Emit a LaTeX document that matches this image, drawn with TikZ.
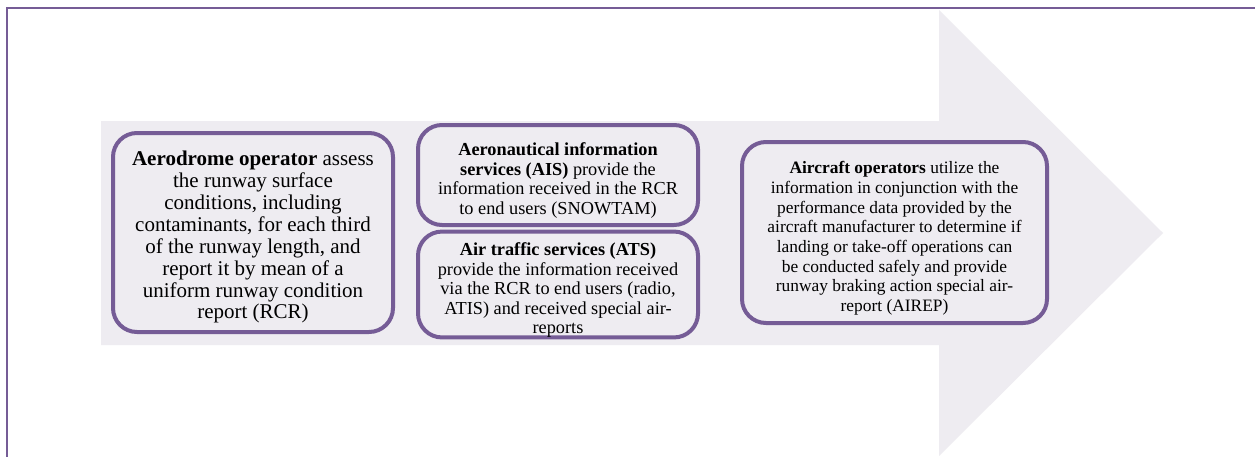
\documentclass[tikz,border=0pt]{standalone}
\usepackage{fontspec}
\setmainfont{Liberation Serif}
\definecolor{purp}{RGB}{117,92,150}
\definecolor{arrowfill}{RGB}{238,236,241}
\newcommand{\topstrut}{\rule{0pt}{24pt}}
\begin{document}
\begin{tikzpicture}[x=1pt,y=-1pt,
  card/.style={draw=purp, line width=4pt, rounded corners=24pt, fill=arrowfill, align=center, inner sep=0pt},
  bigtxt/.style={font=\fontsize{21}{21.9}\selectfont},
  midtxt/.style={font=\fontsize{18.3}{19.5}\selectfont},
  smalltxt/.style={font=\fontsize{17.4}{19.7}\selectfont}]
\useasboundingbox (0,0) rectangle (1255,456);
\fill[white] (0,0) rectangle (1255,456);
% frame
\draw[purp, line width=1.5pt] (7,460) -- (7,8) -- (1260,8);
% big arrow
\fill[arrowfill] (101,121) -- (939,121) -- (939,10) -- (1163,233) -- (939,456) -- (939,345) -- (101,345) -- cycle;
% boxes
\node[card, bigtxt, minimum width=280pt, minimum height=199pt] (aero) at (253,232.5)
 {\topstrut\textbf{Aerodrome operator} assess\\the runway surface\\conditions, including\\contaminants, for each third\\of the runway length, and\\report it by mean of a\\uniform runway condition\\report (RCR)};
\node[card, midtxt, minimum width=280pt, minimum height=100pt] (ais) at (558,175)
 {\topstrut\textbf{Aeronautical information}\\\textbf{services (AIS)} provide the\\information received in the RCR\\to end users (SNOWTAM)};
\node[card, midtxt, minimum width=280pt, minimum height=105pt] (ats) at (558,284.5)
 {\topstrut\textbf{Air traffic services (ATS)}\\provide the information received\\via the RCR to end users (radio,\\ATIS) and received special air-\\reports};
\node[card, smalltxt, minimum width=305pt, minimum height=181pt] (acft) at (894.5,232.5)
 {\topstrut\textbf{Aircraft operators} utilize the\\information in conjunction with the\\performance data provided by the\\aircraft manufacturer to determine if\\landing or take-off operations can\\be conducted safely and provide\\runway braking action special air-\\report (AIREP)};
\end{tikzpicture}
\end{document}
